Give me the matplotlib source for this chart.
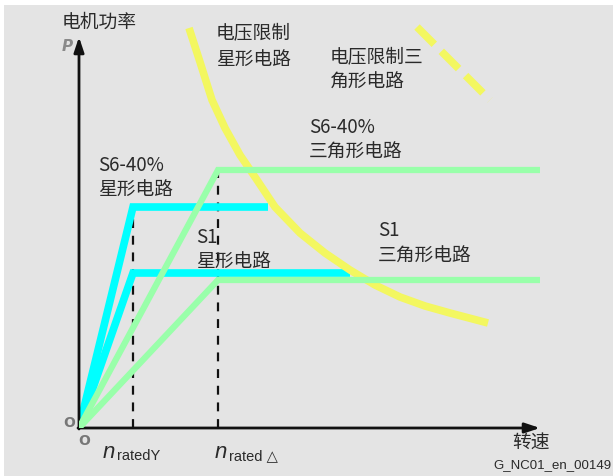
import matplotlib.pyplot as plt
from matplotlib.patches import Rectangle

plt.rcParams['font.family'] = ['Noto Sans CJK SC', 'DejaVu Sans']

# speed / power values (arbitrary units)
rated_speeds = [54, 139]          # n_ratedY, n_rated delta
corner_powers = [221, 258]        # top of the dashed guide lines

star_s6_speed = [0, 54, 189]
star_s6_power = [0, 221, 221]
star_s1_speed = [0, 54, 271]
star_s1_power = [0, 155, 155]

delta_s6_speed = [0, 139, 461]
delta_s6_power = [0, 258, 258]
delta_s1_speed = [0, 139, 461]
delta_s1_power = [0, 148, 148]

# voltage limit curves
vlim_star_speed = [110, 121, 133, 146, 161, 178, 196, 221, 246, 271, 296, 321, 346, 371, 409]
vlim_star_power = [400, 366, 328, 300, 273, 248, 221, 195, 175, 158, 143, 131, 122, 115, 105]
vlim_delta_speed = [338, 373, 411]
vlim_delta_power = [401, 366, 328]

CYAN = '#00ffff'
GREEN = '#99ffaa'
YELLOW = '#f3f760'
TXT = '#2a2a2a'

fig = plt.figure(figsize=(6.13, 4.76), dpi=100)
fig.add_artist(Rectangle((4 / 613, 0), 609 / 613, 471 / 476, transform=fig.transFigure,
                         facecolor='#e4e4e4', edgecolor='none', zorder=-5))
ax = fig.add_axes([79 / 613, 48 / 476, 481 / 613, 408 / 476])
ax.set_xlim(0, 481)
ax.set_ylim(0, 408)
ax.axis('off')

# dashed guides
ax.vlines(rated_speeds, 0, corner_powers, colors='#111111', lw=1.6,
          linestyles=(0, (4, 3.5)), zorder=1)

# star (cyan)
for sp, pw in [(star_s6_speed, star_s6_power), (star_s1_speed, star_s1_power)]:
    ax.plot(sp, pw, color=CYAN, lw=5.5, solid_joinstyle='miter', solid_capstyle='butt', zorder=2)

# voltage limit (yellow)
ax.plot(vlim_star_speed, vlim_star_power, color=YELLOW, lw=5.5,
        solid_capstyle='butt', zorder=3)
yd, = ax.plot(vlim_delta_speed, vlim_delta_power, color=YELLOW, lw=5.5, zorder=3)
yd.set_dashes((3.2, 1.3))
yd.set_dash_capstyle('butt')

# delta (green)
for sp, pw in [(delta_s6_speed, delta_s6_power), (delta_s1_speed, delta_s1_power)]:
    ax.plot(sp, pw, color=GREEN, lw=4.5, solid_joinstyle='miter', solid_capstyle='butt', zorder=4)

# axes with arrows
arrow = dict(arrowstyle='-|>,head_length=0.9,head_width=0.3', lw=2, color='#111111',
             shrinkA=0, shrinkB=0, mutation_scale=10)
ax.annotate('', xy=(0, 391), xytext=(0, -1), arrowprops=arrow, annotation_clip=False)
ax.annotate('', xy=(461, 0), xytext=(-1, 0), arrowprops=arrow, annotation_clip=False)


def label(x, y, s, size=13.5, **kw):
    kw.setdefault('ha', 'left')
    kw.setdefault('va', 'center')
    kw.setdefault('color', TXT)
    kw.setdefault('weight', 'light')
    return ax.text(x, y, s, fontsize=size, clip_on=False, **kw)


label(20, 406, '电机功率', ha='center')
label(-12, 382, 'P', size=11, color='#8a8a8a', style='italic', weight='bold',
      family='DejaVu Sans', ha='center')
label(137, 395, '电压限制')
label(137, 368, '星形电路')
label(251, 371, '电压限制三')
label(251, 346, '角形电路')
label(230, 301, 'S6-40%', weight='normal')
label(230, 276, '三角形电路')
label(19, 263, 'S6-40%', weight='normal')
label(19, 238, '星形电路')
label(117, 191, 'S1', weight='normal')
label(117, 166, '星形电路')
label(299, 198, 'S1', weight='normal')
label(299, 172, '三角形电路')
label(-10, 5, 'O', size=10, color='#777777', weight='bold', family='DejaVu Sans', ha='center')
label(5, -13, 'O', size=10, color='#777777', weight='bold', family='DejaVu Sans', ha='center')
label(452, -15, '转速', ha='center')
label(533, -37, 'G_NC01_en_00149', size=9.5, ha='right', family='Liberation Sans',
      weight='normal')

# n_rated labels
for x, sub in [(24, 'ratedY'), (136, 'rated △')]:
    t = label(x, -30, 'n', size=16, style='italic', family='Liberation Sans',
              va='baseline', weight='normal')
    ax.annotate(sub, xy=(1.0, 0.0), xycoords=t, xytext=(1, 0), textcoords='offset points',
                fontsize=10.5, color=TXT, family=['Liberation Sans', 'DejaVu Sans'],
                ha='left', va='bottom', annotation_clip=False)

fig.savefig('out.png', dpi=100, facecolor='white')
